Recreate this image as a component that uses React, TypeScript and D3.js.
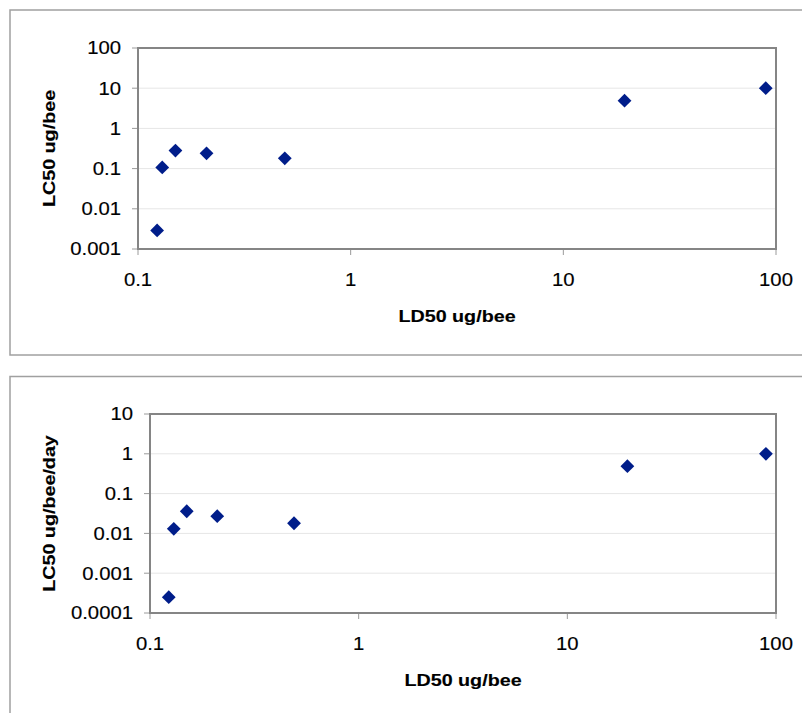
import React, { useEffect, useRef } from 'react';
import * as d3 from 'd3';

// LD50 (ug/bee) for each compound, shared by both panels
const ld50 = [0.123, 0.13, 0.15, 0.21, 0.49, 19.4, 89.5];
// LC50 ug/bee (top panel)
const lc50 = [0.0029, 0.107, 0.28, 0.24, 0.18, 4.9, 10];
// LC50 ug/bee/day (bottom panel)
const lc50Day = [0.00025, 0.013, 0.036, 0.027, 0.018, 0.49, 1.0];

const xTicks = [0.1, 1, 10, 100];
const yTicksTop = [0.001, 0.01, 0.1, 1, 10, 100];
const yTicksBottom = [0.0001, 0.001, 0.01, 0.1, 1, 10];

const FONT = '"Liberation Sans", Arial, Helvetica, sans-serif';
const STRETCH = 1.16; // the source text is a bit wider than Arial

const App = () => {
  const ref = useRef(null);

  useEffect(() => {
    const svg = d3.select(ref.current);
    svg.selectAll('*').remove();

    // draw text stretched horizontally about its anchor
    const label = (g, x, y, s, opts = {}) => {
      const t = g.append('g')
        .attr('transform', `translate(${x},${y})${opts.rotate ? ' rotate(-90)' : ''} scale(${STRETCH},1)`)
        .append('text')
          .attr('text-anchor', opts.anchor || 'middle')
          .attr('font-family', FONT)
          .attr('font-size', opts.size || 17.5)
          .attr('font-weight', opts.bold ? 'bold' : 'normal')
          .attr('fill', '#000')
          .attr('stroke', '#000')
          .attr('stroke-width', 0.15)
          .text(s);
      if (opts.dy) t.attr('dy', opts.dy);
      return t;
    };

    const panel = (cfg) => {
      const { frame, plot, yDomain, yTicks, ys, yTitle, yTitleX } = cfg;

      // outer chart frame
      svg.append('rect')
        .attr('x', frame[0]).attr('y', frame[1])
        .attr('width', frame[2] - frame[0]).attr('height', frame[3] - frame[1])
        .attr('fill', '#fff').attr('stroke', '#a0a0a0').attr('stroke-width', 1.5);

      const x = d3.scaleLog().domain([0.1, 100]).range([plot.left, plot.right]);
      const y = d3.scaleLog().domain(yDomain).range([plot.bottom, plot.top]);

      const g = svg.append('g');

      // gridlines
      g.selectAll('.grid')
        .data(yTicks.slice(1, -1))
        .enter()
        .append('line')
          .attr('x1', plot.left).attr('x2', plot.right)
          .attr('y1', d => y(d)).attr('y2', d => y(d))
          .attr('stroke', '#e6e6e6').attr('stroke-width', 1);

      // y ticks + labels
      g.selectAll('.ytick')
        .data(yTicks)
        .enter()
        .append('line')
          .attr('x1', plot.left - 6).attr('x2', plot.left)
          .attr('y1', d => y(d)).attr('y2', d => y(d))
          .attr('stroke', '#9a9a9a').attr('stroke-width', 1);
      yTicks.forEach(d => label(g, plot.left - 17, y(d), String(d), { anchor: 'end', dy: '0.36em' }));

      // x ticks + labels
      g.selectAll('.xtick')
        .data(xTicks)
        .enter()
        .append('line')
          .attr('x1', d => x(d)).attr('x2', d => x(d))
          .attr('y1', plot.bottom).attr('y2', plot.bottom + 6)
          .attr('stroke', '#9a9a9a').attr('stroke-width', 1);
      xTicks.forEach(d => label(g, x(d), plot.bottom + 37, String(d)));

      // plot border
      g.append('rect')
        .attr('x', plot.left).attr('y', plot.top)
        .attr('width', plot.right - plot.left).attr('height', plot.bottom - plot.top)
        .attr('fill', 'none').attr('stroke', '#858585').attr('stroke-width', 2);

      // axis titles
      label(g, (plot.left + plot.right) / 2, plot.bottom + 73, 'LD50 ug/bee', { bold: true, size: 17 });
      label(g, yTitleX, (plot.top + plot.bottom) / 2, yTitle, { bold: true, size: 17, rotate: true });

      // diamonds
      const diamond = d3.symbol().type(d3.symbolSquare).size(95);
      g.selectAll('.pt')
        .data(ld50.map((v, i) => [v, ys[i]]))
        .enter()
        .append('path')
          .attr('d', diamond)
          .attr('transform', d => `translate(${x(d[0])},${y(d[1])}) rotate(45)`)
          .attr('fill', '#001d8a');
    };

    panel({
      frame: [10, 10, 812, 355],
      plot: { left: 138, right: 776, top: 48, bottom: 249 },
      yDomain: [0.001, 100],
      yTicks: yTicksTop,
      ys: lc50,
      yTitle: 'LC50 ug/bee',
      yTitleX: 55,
    });

    panel({
      frame: [10, 376.5, 812, 730],
      plot: { left: 150, right: 776, top: 414, bottom: 613 },
      yDomain: [0.0001, 10],
      yTicks: yTicksBottom,
      ys: lc50Day,
      yTitle: 'LC50 ug/bee/day',
      yTitleX: 55,
    });
  }, []);

  return (
    <svg
      ref={ref}
      width={802}
      height={713}
      style={{ position: 'absolute', left: 0, top: 0, background: '#fff' }}
    />
  );
};

export default App;
